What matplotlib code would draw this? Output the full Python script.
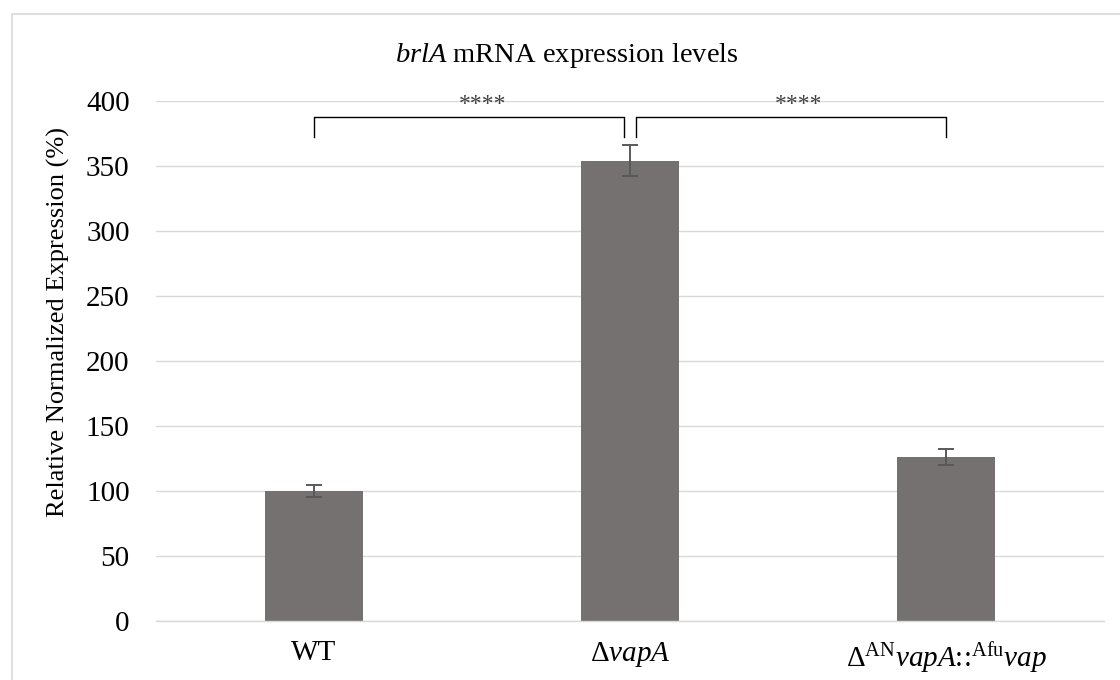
import matplotlib
matplotlib.use("Agg")
import matplotlib.pyplot as plt
from matplotlib.patches import Rectangle

plt.rcParams['font.family'] = ['Liberation Serif', 'DejaVu Serif']
plt.rcParams['mathtext.fontset'] = 'custom'
plt.rcParams['mathtext.rm'] = 'Liberation Serif'
plt.rcParams['mathtext.it'] = 'Liberation Serif:italic'

# data
strains = ["WT", r"Δ$\mathit{vapA}$",
           r"Δ$^{\mathrm{AN}}$$\mathit{vapA}$::$^{\mathrm{Afu}}$$\mathit{vap}$"]
expression = [100.2, 354, 126]
errors = [4.8, 12, 6.2]
yticks = [0, 50, 100, 150, 200, 250, 300, 350, 400]
# significance brackets: (from bar, to bar, label)
comparisons = [(0, 1, "****"), (1, 2, "****")]

bar_color = "#767171"
grid_color = "#d9d9d9"

fig = plt.figure(figsize=(11.2, 6.8), dpi=100)
W, H = 1120, 680
ax = fig.add_axes([156 / W, 1 - 621 / H, (1104 - 156) / W, 520 / H])

x = list(range(len(strains)))
ax.bar(x, expression, width=0.312, color=bar_color, zorder=2)
ax.errorbar(x, expression, yerr=errors, fmt='none', ecolor="#595959",
            elinewidth=1.4, capsize=6, capthick=1.4, zorder=3)

ax.set_xlim(-0.5, len(strains) - 0.5)
ax.set_ylim(0, 400)
ax.set_yticks(yticks)
ax.set_yticklabels([str(t) for t in yticks], fontsize=21)
ax.set_xticks(x)
ax.set_xticklabels(strains, fontsize=21)
ax.tick_params(axis='both', length=0)
ax.tick_params(axis='y', pad=19)
ax.tick_params(axis='x', pad=14)
ax.yaxis.grid(True, color=grid_color, linewidth=1.0, zorder=0)
ax.set_axisbelow(True)
for s in ['top', 'right', 'left']:
    ax.spines[s].set_visible(False)
ax.spines['bottom'].set_color(grid_color)
ax.spines['bottom'].set_linewidth(1.0)

ax.set_ylabel("Relative Normalized Expression (%)", fontsize=19)
ax.yaxis.set_label_coords((70 - 156) / 948, (621 - 322) / 520)

# significance brackets
top, leg = 388, 372
gap = 0.018
for a, b, lab in comparisons:
    xa = a + (gap if a == 1 else 0)
    xb = b - (gap if b == 1 else 0)
    ax.plot([xa, xa, xb, xb], [leg, top, top, leg], color="black",
            linewidth=1.0, zorder=4, clip_on=False)
    ax.text((a + b) / 2 + 0.035, 397, lab, ha='center', va='center',
            fontsize=17, color="#404040", zorder=5)

fig.text(0.506, 1 - 55 / H, r"$\mathit{brlA}$ mRNA expression levels",
         ha='center', va='center', fontsize=20.5)

# chart border
fig.patches.append(Rectangle((12 / W, -0.05), 1.2, 1 - 14 / H + 0.05,
                             transform=fig.transFigure, fill=False,
                             edgecolor=grid_color, linewidth=1.2))

fig.savefig("out.png", dpi=100)
